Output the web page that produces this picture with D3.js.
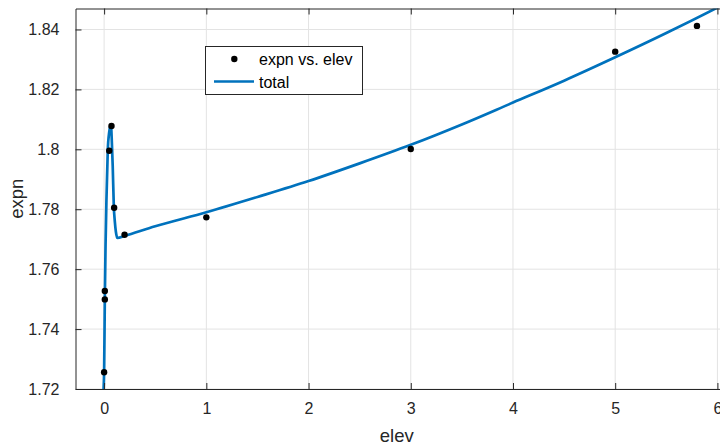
<!DOCTYPE html>
<html>
<head>
<meta charset="utf-8">
<script src="https://cdn.jsdelivr.net/npm/d3@7"></script>
<style>
  html, body { margin: 0; padding: 0; background: #fff; }
  svg { display: block; font-family: "Liberation Sans", Arial, Helvetica, sans-serif; }
</style>
</head>
<body>
<svg id="chart" width="720" height="447"></svg>
<script>
// ---- data ----
const elevPts = [0, 0.007, 0.007, 0.05, 0.072, 0.098, 0.2, 1, 3, 5, 5.8];
const expnPts = [1.7256, 1.7499, 1.7527, 1.7995, 1.8078, 1.7805, 1.7715, 1.7773, 1.8001, 1.8326, 1.8412];

const fitElev = [-0.012, 0, 0.007, 0.014, 0.023, 0.036, 0.05, 0.062, 0.068, 0.076, 0.084, 0.095, 0.105, 0.115, 0.13, 0.2, 0.5, 1, 1.5, 2, 2.5, 3, 3.5, 4, 4.5, 5, 5.5, 6, 6.04];
const fitExpn = [1.716, 1.7256, 1.7505, 1.768, 1.7835, 1.800, 1.8058, 1.808, 1.8078, 1.802, 1.7945, 1.7808, 1.7758, 1.7725, 1.7704, 1.7711, 1.7743, 1.7790, 1.7841, 1.7894, 1.7953, 1.8015, 1.8083, 1.8156, 1.8229, 1.8307, 1.8388, 1.8473, 1.8480];

const xTicks = [0, 1, 2, 3, 4, 5, 6];
const yTicks = [1.72, 1.74, 1.76, 1.78, 1.80, 1.82, 1.84];
const yTickLabels = ["1.72", "1.74", "1.76", "1.78", "1.8", "1.82", "1.84"];
const legendLabels = ["expn vs. elev", "total"];
const xLabel = "elev", yLabel = "expn";

// ---- layout ----
const svg = d3.select("#chart");
const L = 75.5, R = 721.5, T = 8.5, B = 389;
const x = d3.scaleLinear().domain([-0.28, 6.04]).range([L, R]);
const y = d3.scaleLinear().domain([1.72, 1.847]).range([B, T]);
const axisColor = "#262626";
const lineColor = "#0072BD";

// grid
const grid = svg.append("g");
grid.selectAll(".gx").data(xTicks).join("line")
  .attr("x1", d => x(d)).attr("x2", d => x(d)).attr("y1", T).attr("y2", B)
  .attr("stroke", "#e3e3e3").attr("stroke-width", 1);
grid.selectAll(".gy").data(yTicks).join("line")
  .attr("y1", d => y(d)).attr("y2", d => y(d)).attr("x1", L).attr("x2", R)
  .attr("stroke", "#e3e3e3").attr("stroke-width", 1);

// clip
svg.append("clipPath").attr("id", "clip").append("rect")
  .attr("x", L).attr("y", T).attr("width", R - L).attr("height", B - T);

// fit line
const fitData = fitElev.map((e, i) => [e, fitExpn[i]]);
svg.append("path").datum(fitData)
  .attr("clip-path", "url(#clip)")
  .attr("fill", "none").attr("stroke", lineColor).attr("stroke-width", 2.7)
  .attr("stroke-linejoin", "round")
  .attr("d", d3.line().x(d => x(d[0])).y(d => y(d[1])).curve(d3.curveMonotoneX));

// points
const pts = elevPts.map((e, i) => [e, expnPts[i]]);
svg.append("g").selectAll("circle").data(pts).join("circle")
  .attr("cx", d => x(d[0])).attr("cy", d => y(d[1])).attr("r", 3.2).attr("fill", "#000");

// axes (box)
const xAxisB = d3.axisBottom(x).tickValues(xTicks).tickSizeInner(-6).tickSizeOuter(0).tickPadding(14).tickFormat(d3.format("d"));
svg.append("g").attr("transform", `translate(0,${B})`).call(xAxisB);
const xAxisT = d3.axisTop(x).tickValues(xTicks).tickSizeInner(-6).tickSizeOuter(0).tickFormat("");
svg.append("g").attr("transform", `translate(0,${T})`).call(xAxisT);
const yAxisL = d3.axisLeft(y).tickValues(yTicks).tickSizeInner(-6).tickSizeOuter(0).tickPadding(16)
  .tickFormat((d, i) => yTickLabels[i]);
svg.append("g").attr("transform", `translate(${L},0)`).call(yAxisL);

svg.selectAll(".domain").attr("stroke", axisColor).attr("stroke-width", 1);
svg.selectAll(".tick line").attr("stroke", axisColor);
svg.selectAll(".tick text").attr("fill", axisColor).style("font-size", "16px")
  .style("font-family", '"Liberation Sans", Arial, sans-serif');

// axis labels
svg.append("text").attr("x", (L + 718) / 2).attr("y", 442).attr("text-anchor", "middle")
  .attr("fill", axisColor).style("font-size", "18.5px").text(xLabel);
svg.append("text").attr("transform", `translate(23,${(T + B) / 2}) rotate(-90)`).attr("text-anchor", "middle")
  .attr("fill", axisColor).style("font-size", "18.5px").text(yLabel);

// legend
const lg = svg.append("g");
lg.append("rect").attr("x", 205.5).attr("y", 46.5).attr("width", 157).attr("height", 48)
  .attr("fill", "#fff").attr("stroke", axisColor).attr("stroke-width", 1);
lg.append("circle").attr("cx", 234.3).attr("cy", 59).attr("r", 3.2).attr("fill", "#000");
lg.append("line").attr("x1", 214).attr("x2", 254).attr("y1", 81.5).attr("y2", 81.5)
  .attr("stroke", lineColor).attr("stroke-width", 2.7);
lg.append("text").attr("x", 259).attr("y", 64.5).attr("fill", "#000").style("font-size", "16px").text(legendLabels[0]);
lg.append("text").attr("x", 259).attr("y", 87.5).attr("fill", "#000").style("font-size", "16px").text(legendLabels[1]);
</script>
</body>
</html>
